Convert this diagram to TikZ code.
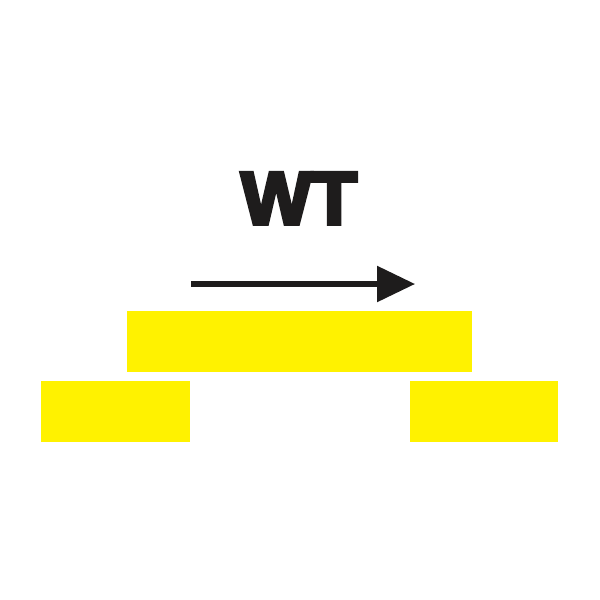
\documentclass[tikz,border=0pt]{standalone}
\usepackage{fontspec}
\usepackage{tikz}
\usepackage{xcolor}
\usetikzlibrary{arrows.meta}
\newfontfamily\wtfont[FakeBold=5]{Liberation Sans Bold}
\definecolor{wtyellow}{RGB}{255,242,0}
\definecolor{wtblack}{RGB}{30,28,28}
\tikzset{
    yellow-block/.style = {fill=wtyellow, draw=none, rectangle, inner sep=0pt, outer sep=0pt, anchor=north west, minimum height=1.525cm},
    wt-label/.style = {font=\wtfont\fontsize{53}{53}\selectfont, text=wtblack, inner sep=0pt, anchor=base},
}

\begin{document}
\begin{tikzpicture}[x=0.025cm, y=-0.025cm]
\useasboundingbox (0,0) rectangle (600,600);
\node[wt-label] (label) at (299,224) {WT};
\coordinate (arrow-start) at (191,284);
\coordinate (arrow-end) at (415,284);
\draw[wtblack, line width=3.6pt, -{Triangle[length=27pt, width=25pt]}] (arrow-start) -- (arrow-end);
\node[yellow-block, minimum width=8.625cm] (top-block) at (127,311) {};
\node[yellow-block, minimum width=3.725cm] (left-block) at (41,381) {};
\node[yellow-block, minimum width=3.7cm] (right-block) at (410,381) {};
\end{tikzpicture}
\end{document}
